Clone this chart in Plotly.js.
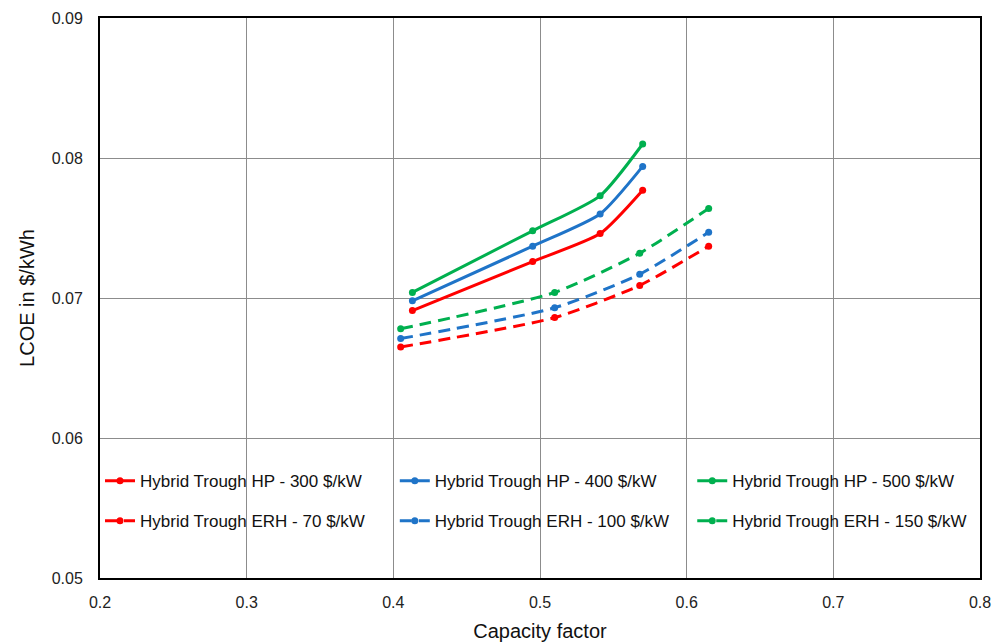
<!DOCTYPE html>
<html><head><meta charset="utf-8">
<script src="https://cdn.plot.ly/plotly-3.0.1.min.js"></script>
<style>html,body{margin:0;padding:0;background:#fff}#chart{width:1003px;height:643px}</style>
</head><body><div id="chart"></div>
<script>
const seriesNames = [
  "Hybrid Trough HP - 300 $/kW", "Hybrid Trough HP - 400 $/kW", "Hybrid Trough HP - 500 $/kW",
  "Hybrid Trough ERH - 70 $/kW", "Hybrid Trough ERH - 100 $/kW", "Hybrid Trough ERH - 150 $/kW"
];
const xHP = [0.413, 0.495, 0.541, 0.570];
const xERH = [0.405, 0.510, 0.568, 0.615];
const hp300 = [0.0691, 0.0726, 0.0746, 0.0777];
const hp400 = [0.0698, 0.0737, 0.0760, 0.0794];
const hp500 = [0.0704, 0.0748, 0.0773, 0.0810];
const erh70 = [0.0665, 0.0686, 0.0709, 0.0737];
const erh100 = [0.0671, 0.0693, 0.0717, 0.0747];
const erh150 = [0.0678, 0.0704, 0.0732, 0.0764];
const xTicks = [0.2, 0.3, 0.4, 0.5, 0.6, 0.7, 0.8];
const yTicks = [0.05, 0.06, 0.07, 0.08, 0.09];

const red = "#ff0000", blue = "#1f74c8", green = "#00b04f";
function tr(x, y, name, color, dash, leg, grp) {
  return {x: x, y: y, name: name, type: "scatter", mode: "lines+markers", legend: leg, legendgroup: grp,
    line: {color: color, width: 3, shape: "spline", smoothing: 0.6, dash: dash},
    marker: {color: color, size: 7}};
}
const data = [
  tr(xHP, hp300, seriesNames[0], red, "solid", "legend", "a"),
  tr(xERH, erh70, seriesNames[3], red, "12px,7px", "legend", "b"),
  tr(xHP, hp400, seriesNames[1], blue, "solid", "legend2", "c"),
  tr(xERH, erh100, seriesNames[4], blue, "12px,7px", "legend2", "d"),
  tr(xHP, hp500, seriesNames[2], green, "solid", "legend3", "e"),
  tr(xERH, erh150, seriesNames[5], green, "12px,7px", "legend3", "f")
];
const font = {family: "Liberation Sans, Arial, sans-serif", color: "#222"};
const legFont = {family: font.family, size: 17, color: "#111"};
function leg(x) {
  return {orientation: "v", x: x, y: 0.205, xanchor: "left", yanchor: "top",
    bgcolor: "rgba(0,0,0,0)", font: legFont, itemwidth: 30, tracegroupgap: 15};
}
const layout = {
  width: 1003, height: 643,
  margin: {l: 100, r: 23, t: 18, b: 65},
  paper_bgcolor: "#fff", plot_bgcolor: "#fff",
  font: font,
  showlegend: true,
  legend: leg(0.0),
  legend2: leg(0.335),
  legend3: leg(0.673),
  xaxis: {range: [0.2, 0.8], tickvals: xTicks, ticktext: xTicks.map(v => v.toFixed(1)),
    showgrid: true, gridcolor: "#8c8c8c", gridwidth: 1, zeroline: false,
    showline: true, linecolor: "#000", linewidth: 2, mirror: true, ticks: "",
    ticklabelstandoff: 9,
    tickfont: {size: 16, color: "#222"},
    title: {text: "Capacity factor", font: {size: 20, color: "#111"}, standoff: 14}},
  yaxis: {range: [0.05, 0.09], tickvals: yTicks, ticktext: yTicks.map(v => v.toFixed(2)),
    showgrid: true, gridcolor: "#8c8c8c", gridwidth: 1, zeroline: false,
    showline: true, linecolor: "#000", linewidth: 2, mirror: true, ticks: "",
    ticklabelstandoff: 12,
    tickfont: {size: 16, color: "#222"},
    title: {text: "LCOE in $/kWh", font: {size: 20, color: "#111"}, standoff: 12}}
};
Plotly.newPlot("chart", data, layout, {displayModeBar: false, staticPlot: true});
</script></body></html>
